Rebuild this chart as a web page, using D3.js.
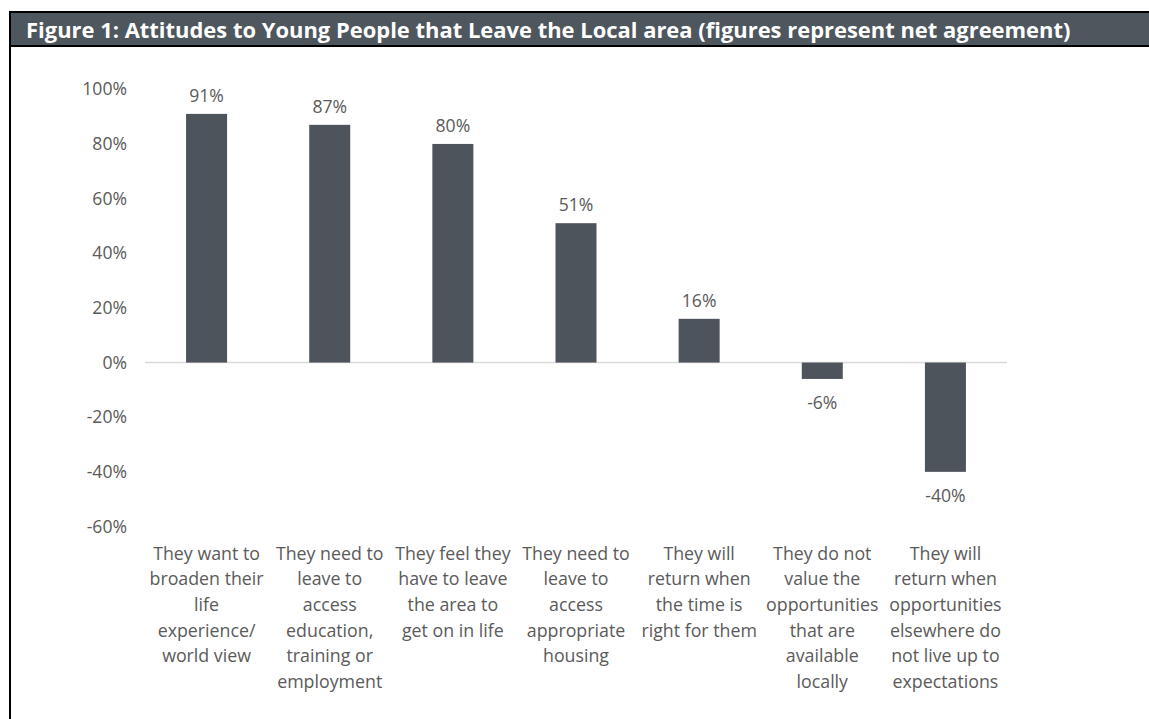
<!DOCTYPE html>
<html>
<head>
<meta charset="utf-8">
<script src="https://cdn.jsdelivr.net/npm/d3@7"></script>
<style>
  html, body { margin: 0; padding: 0; background: #ffffff; }
  svg { display: block; }
  text { font-family: "Open Sans", "Liberation Sans", sans-serif; }
</style>
</head>
<body>
<svg id="chart" width="1149" height="719"></svg>
<script>
// Net agreement with statements about young people leaving the local area
const categories = [
  ["They want to", "broaden their", "life", "experience/", "world view"],
  ["They need to", "leave to", "access", "education,", "training or", "employment"],
  ["They feel they", "have to leave", "the area to", "get on in life"],
  ["They need to", "leave to", "access", "appropriate", "housing"],
  ["They will", "return when", "the time is", "right for them"],
  ["They do not", "value the", "opportunities", "that are", "available", "locally"],
  ["They will", "return when", "opportunities", "elsewhere do", "not live up to", "expectations"]
];
const netAgreement = [91, 87, 80, 51, 16, -6, -40];
const yTicks = [100, 80, 60, 40, 20, 0, -20, -40, -60];
const titleText = "Figure 1: Attitudes to Young People that Leave the Local area (figures represent net agreement)";

const svg = d3.select("#chart");
const W = 1149, H = 719;
const barColor = "#4d545b";
const textColor = "#5a5a5a";

// Frame and title bar
svg.append("rect").attr("x", 10).attr("y", 12).attr("width", W).attr("height", 34)
  .attr("fill", "#4e565e");
svg.append("line").attr("x1", 9).attr("x2", W).attr("y1", 12).attr("y2", 12)
  .attr("stroke", "#000").attr("stroke-width", 2);
svg.append("line").attr("x1", 9).attr("x2", W).attr("y1", 46).attr("y2", 46)
  .attr("stroke", "#000").attr("stroke-width", 2);
svg.append("line").attr("x1", 10).attr("x2", 10).attr("y1", 11).attr("y2", H)
  .attr("stroke", "#000").attr("stroke-width", 2);

const title = svg.append("text")
  .attr("x", 26).attr("y", 29.5)
  .attr("dominant-baseline", "central")
  .attr("fill", "#ffffff")
  .attr("font-weight", 700)
  .attr("font-size", 20)
  .text(titleText);
// fit the title to the width of the bar
const tw = title.node().getComputedTextLength();
title.attr("font-size", 20 * 1045 / tw);

// Scales
const x = d3.scaleBand()
  .domain(d3.range(categories.length))
  .range([145, 1007])
  .padding(0);
const y = d3.scaleLinear().domain([-60, 100]).range([526.5, 89.3]);
const barW = x.bandwidth() * 0.333;

// Y axis labels (no tick lines)
const yAxis = d3.axisLeft(y)
  .tickValues(yTicks)
  .tickFormat(d => d + "%")
  .tickSize(0)
  .tickPadding(0);
const yg = svg.append("g").attr("transform", "translate(127,0)").call(yAxis);
yg.select(".domain").remove();
yg.selectAll("text")
  .attr("font-family", "'Open Sans', sans-serif")
  .attr("font-size", 17.6)
  .attr("fill", textColor);

// Zero baseline
svg.append("line")
  .attr("x1", x.range()[0]).attr("x2", x.range()[1])
  .attr("y1", y(0)).attr("y2", y(0))
  .attr("stroke", "#d9d9d9").attr("stroke-width", 1.5);

// Bars
svg.append("g").selectAll("rect")
  .data(netAgreement)
  .join("rect")
  .attr("x", (d, i) => x(i) + (x.bandwidth() - barW) / 2)
  .attr("y", d => y(Math.max(0, d)))
  .attr("width", barW)
  .attr("height", d => Math.abs(y(d) - y(0)))
  .attr("fill", barColor);

// Value labels
svg.append("g").selectAll("text")
  .data(netAgreement)
  .join("text")
  .attr("x", (d, i) => x(i) + x.bandwidth() / 2)
  .attr("y", d => d >= 0 ? y(d) - 19 : y(d) + 23)
  .attr("text-anchor", "middle")
  .attr("dominant-baseline", "central")
  .attr("font-size", 17.6)
  .attr("fill", textColor)
  .text(d => d + "%");

// Category labels
const cat = svg.append("g").selectAll("text")
  .data(categories)
  .join("text")
  .attr("text-anchor", "middle")
  .attr("font-size", 17.8)
  .attr("fill", textColor);
cat.selectAll("tspan")
  .data((lines, i) => lines.map(l => ({ l, i })))
  .join("tspan")
  .attr("x", d => x(d.i) + x.bandwidth() / 2)
  .attr("y", (d, j) => 552.5 + j * 25.7)
  .attr("dominant-baseline", "central")
  .text(d => d.l);
</script>
</body>
</html>
